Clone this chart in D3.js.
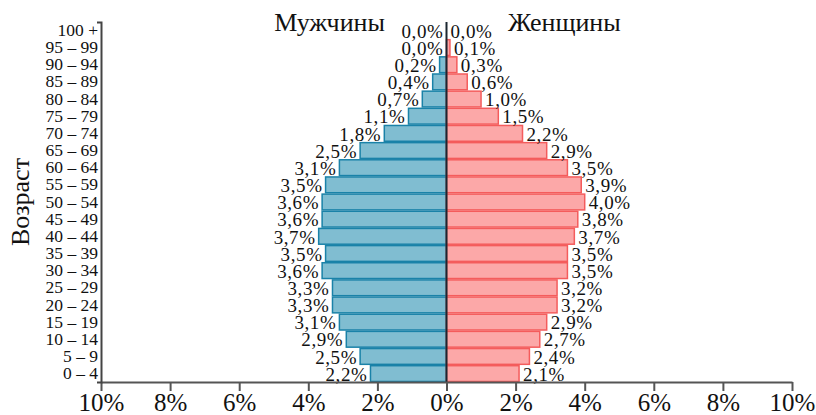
<!DOCTYPE html>
<html>
<head>
<meta charset="utf-8">
<script src="https://cdn.jsdelivr.net/npm/d3@7"></script>
<style>
  html, body { margin: 0; padding: 0; background: #fff; }
  svg { display: block; font-family: "Liberation Serif", "Times New Roman", serif; }
</style>
</head>
<body>
<svg id="chart" width="816" height="415"></svg>
<script>
// Age groups, oldest at the top
const ageGroups = ["100 +", "95 – 99", "90 – 94", "85 – 89", "80 – 84", "75 – 79", "70 – 74",
  "65 – 69", "60 – 64", "55 – 59", "50 – 54", "45 – 49", "40 – 44", "35 – 39",
  "30 – 34", "25 – 29", "20 – 24", "15 – 19", "10 – 14", "5 – 9", "0 – 4"];

// Share of the population, %
const maleValues = [0.0, 0.0, 0.2, 0.4, 0.7, 1.1, 1.8, 2.5, 3.1, 3.5, 3.6, 3.6, 3.7, 3.5,
  3.6, 3.3, 3.3, 3.1, 2.9, 2.5, 2.2];
const femaleValues = [0.0, 0.1, 0.3, 0.6, 1.0, 1.5, 2.2, 2.9, 3.5, 3.9, 4.0, 3.8, 3.7, 3.5,
  3.5, 3.2, 3.2, 2.9, 2.7, 2.4, 2.1];

const xTicks = [-10, -8, -6, -4, -2, 0, 2, 4, 6, 8, 10];
const maleTitle = "Мужчины";
const femaleTitle = "Женщины";
const yTitle = "Возраст";

const serif = "Liberation Serif, serif";
const svg = d3.select("#chart");

const x = d3.scaleLinear().domain([-10, 10]).range([101, 792]);
const y = d3.scaleBand().domain(ageGroups).range([22, 382]).paddingInner(0.08).paddingOuter(0.03);

const fmt = v => v.toFixed(1).replace(".", ",") + "%";

const rows = ageGroups.map((g, i) => ({ g, m: maleValues[i], f: femaleValues[i] }));

// Male bars (left)
svg.append("g").selectAll("rect").data(rows).join("rect")
  .attr("x", d => x(-d.m))
  .attr("y", d => y(d.g))
  .attr("width", d => x(0) - x(-d.m))
  .attr("height", y.bandwidth())
  .attr("fill", "#80bdd1")
  .attr("stroke", "#1a82a8")
  .attr("stroke-width", d => d.m > 0 ? 1.5 : 0);

// Female bars (right)
svg.append("g").selectAll("rect").data(rows).join("rect")
  .attr("x", x(0))
  .attr("y", d => y(d.g))
  .attr("width", d => x(d.f) - x(0))
  .attr("height", y.bandwidth())
  .attr("fill", "#fca8a8")
  .attr("stroke", "#f45c5c")
  .attr("stroke-width", d => d.f > 0 ? 1.5 : 0);

// Value labels
svg.append("g").selectAll("text").data(rows).join("text")
  .attr("x", d => x(-d.m) - 3)
  .attr("y", d => y(d.g) + y.bandwidth() / 2)
  .attr("dy", "0.38em")
  .attr("text-anchor", "end")
  .attr("font-size", 19)
  .attr("letter-spacing", 0.6)
  .attr("font-family", serif)
  .attr("fill", "#111")
  .text(d => fmt(d.m));

svg.append("g").selectAll("text").data(rows).join("text")
  .attr("x", d => x(d.f) + 4)
  .attr("y", d => y(d.g) + y.bandwidth() / 2)
  .attr("dy", "0.38em")
  .attr("text-anchor", "start")
  .attr("font-size", 19)
  .attr("letter-spacing", 0.6)
  .attr("font-family", serif)
  .attr("fill", "#111")
  .text(d => fmt(d.f));

// Centre line
svg.append("line")
  .attr("x1", x(0)).attr("x2", x(0))
  .attr("y1", 22).attr("y2", 382)
  .attr("stroke", "#1b2630").attr("stroke-width", 2);

// Bottom axis
const xAxis = svg.append("g")
  .attr("transform", "translate(0,382)")
  .call(d3.axisBottom(x).tickValues(xTicks).tickSize(9).tickSizeOuter(0).tickPadding(2)
    .tickFormat(d => Math.abs(d) + "%"));
xAxis.select(".domain").attr("stroke", "#555").attr("stroke-width", 2);
xAxis.selectAll(".tick line").attr("stroke", "#555").attr("stroke-width", 2);
xAxis.selectAll(".tick text").attr("font-size", 25).attr("fill", "#111")
  .attr("font-family", serif);

// Left axis with age groups
const yAxis = svg.append("g")
  .attr("transform", "translate(101,0)")
  .call(d3.axisLeft(y).tickSize(0).tickSizeOuter(4).tickPadding(3));
yAxis.select(".domain").attr("stroke", "#444").attr("stroke-width", 2);
yAxis.selectAll(".tick text").attr("font-size", 17.5).attr("fill", "#111")
  .attr("font-family", serif);

// Titles
svg.append("text").attr("x", 385).attr("y", 31).attr("text-anchor", "end")
  .attr("font-size", 26).attr("font-family", serif).attr("fill", "#111").text(maleTitle);
svg.append("text").attr("x", 508).attr("y", 31).attr("text-anchor", "start")
  .attr("font-size", 26).attr("font-family", serif).attr("fill", "#111").text(femaleTitle);
svg.append("text")
  .attr("transform", "translate(29,202) rotate(-90)")
  .attr("text-anchor", "middle")
  .attr("font-size", 26).attr("font-family", serif).attr("fill", "#111").text(yTitle);
</script>
</body>
</html>
